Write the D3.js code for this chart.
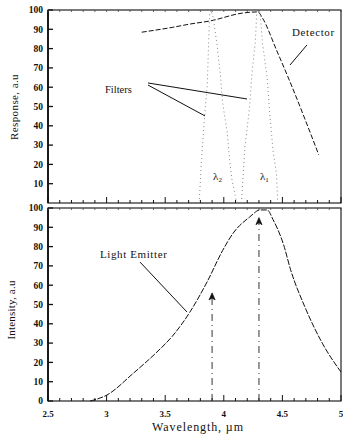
<!DOCTYPE html>
<html>
<head>
<meta charset="utf-8">
<script src="https://cdn.jsdelivr.net/npm/d3@7"></script>
<style>
  html, body { margin: 0; padding: 0; background: #fff; }
  svg { display: block; }
  text { font-family: "Liberation Serif", "DejaVu Serif", serif; fill: #111; }
</style>
</head>
<body>
<svg id="chart" width="343" height="434"></svg>
<script>
// Wavelength axis (µm)
const xTicks = [2.5, 3, 3.5, 4, 4.5, 5];
const xTickLabels = ["2.5", "3", "3.5", "4", "4.5", "5"];
const yTicksTop = [10, 20, 30, 40, 50, 60, 70, 80, 90, 100];
const yTicksBottom = [0, 10, 20, 30, 40, 50, 60, 70, 80, 90, 100];

// Detector response (a.u.)
const detectorX = [3.30, 3.56, 3.71, 3.88, 4.16, 4.29, 4.33, 4.45, 4.56, 4.81];
const detectorY = [88.5, 91.0, 92.7, 94.3, 98.4, 99.0, 95.8, 79.2, 63.5, 25.0];

// Band-pass filter λ2 (~3.9 µm)
const filter2X = [3.79, 3.81, 3.84, 3.86, 3.87, 3.88, 3.89, 3.91, 3.94, 3.97, 3.99, 4.03, 4.05, 4.07, 4.11];
const filter2Y = [0, 23, 48, 62, 83, 98, 100, 96, 83, 67, 52, 36, 22, 12, 0];

// Band-pass filter λ1 (~4.3 µm)
const filter1X = [4.15, 4.18, 4.20, 4.22, 4.24, 4.27, 4.28, 4.30, 4.31, 4.33, 4.37, 4.39, 4.42, 4.45, 4.46];
const filter1Y = [0, 29, 39, 50, 67, 84, 98, 100, 98, 83, 65, 48, 27, 15, 0];

// Light emitter intensity (a.u.)
const emitterX = [2.86, 3.00, 3.23, 3.43, 3.56, 3.71, 3.86, 3.99, 4.08, 4.22, 4.31, 4.37, 4.42, 4.51, 4.57, 4.69, 4.84, 5.00];
const emitterY = [0, 3, 14.5, 25.4, 33.5, 46, 62, 78, 87, 95.3, 99, 99, 94, 81, 68, 49, 30, 15];

// Measurement wavelengths shown as arrows
const arrowX = [3.9, 4.3];
const arrowTop = [56, 95];
const lambdaLabels = ["2", "1"];

const svg = d3.select("#chart");
const left = 48, right = 341;

const x = d3.scaleLinear().domain([2.5, 5]).range([left, right]);
const yTop = d3.scaleLinear().domain([0, 100]).range([203, 10]);
const yBot = d3.scaleLinear().domain([0, 100]).range([401, 208]);

const minorTicks = d3.range(25, 51).map(v => v / 10);

function panel(y, yTicks) {
  const g = svg.append("g");
  const [y0, y1] = y.range();
  // frame
  g.append("rect")
    .attr("x", left).attr("y", y1)
    .attr("width", right - left).attr("height", y0 - y1)
    .attr("fill", "none").attr("stroke", "#222").attr("stroke-width", 1.2);
  g.append("line")
    .attr("x1", left).attr("x2", left).attr("y1", y1).attr("y2", y0)
    .attr("stroke", "#111").attr("stroke-width", 1.8);
  // y ticks and labels
  g.selectAll(".yt").data(yTicks).join("line")
    .attr("x1", left).attr("x2", left + 5)
    .attr("y1", d => y(d)).attr("y2", d => y(d))
    .attr("stroke", "#111").attr("stroke-width", 1.3);
  g.selectAll(".yl").data(yTicks).join("text")
    .attr("x", left - 5).attr("y", d => y(d))
    .attr("dy", "0.35em").attr("text-anchor", "end")
    .attr("font-size", 9.5).attr("font-weight", "bold")
    .text(d => d);
  // x ticks (bottom, inward) and light marks on top edge
  g.selectAll(".xt").data(minorTicks).join("line")
    .attr("x1", d => x(d)).attr("x2", d => x(d))
    .attr("y1", y0)
    .attr("y2", d => y0 - (Math.abs(d * 2 - Math.round(d * 2)) < 1e-6 ? 6 : 3))
    .attr("stroke", "#111").attr("stroke-width", 1);
  g.selectAll(".xtt").data(minorTicks).join("line")
    .attr("x1", d => x(d)).attr("x2", d => x(d))
    .attr("y1", y1).attr("y2", y1 + 2)
    .attr("stroke", "#444").attr("stroke-width", 0.8);
  return g;
}

const gTop = panel(yTop, yTicksTop);
const gBot = panel(yBot, yTicksBottom);

const zip = (xs, ys) => xs.map((v, i) => [v, ys[i]]);

// Top panel: detector response
const lineTop = d3.line().x(d => x(d[0])).y(d => yTop(d[1]));
gTop.append("path")
  .attr("d", lineTop.curve(d3.curveMonotoneX)(zip(detectorX, detectorY)))
  .attr("fill", "none").attr("stroke", "#111").attr("stroke-width", 1)
  .attr("stroke-dasharray", "5,2");

// Top panel: filters (dotted)
[[filter2X, filter2Y], [filter1X, filter1Y]].forEach(([fx, fy]) => {
  gTop.append("path")
    .attr("d", d3.line().x(d => x(d[0])).y(d => yTop(d[1]))(zip(fx, fy)))
    .attr("fill", "none").attr("stroke", "#888").attr("stroke-width", 1)
    .attr("stroke-dasharray", "1,3");
});

// Lambda labels
arrowX.forEach((w, i) => {
  const t = gTop.append("text")
    .attr("x", x(w) + 1).attr("y", yTop(12))
    .attr("font-size", 11);
  t.append("tspan").text("λ");
  t.append("tspan").attr("font-size", 7).attr("dy", 2.5).text(lambdaLabels[i]);
});

// Annotations, top panel
gTop.append("text").attr("x", x(2.986)).attr("y", yTop(57))
  .attr("font-family", "Liberation Sans, Arial, sans-serif")
  .attr("font-size", 10.5).text("Filters");
[[3.353, 62.2, 4.198, 53.9], [3.353, 61.1, 3.84, 45.1]].forEach(([a, b, c, d]) => {
  gTop.append("line")
    .attr("x1", x(a)).attr("y1", yTop(b)).attr("x2", x(c)).attr("y2", yTop(d))
    .attr("stroke", "#111").attr("stroke-width", 1);
});
gTop.append("text").attr("x", x(4.582)).attr("y", yTop(86.5))
  .attr("font-size", 11).attr("letter-spacing", 0.6).text("Detector");
gTop.append("line")
  .attr("x1", x(4.71)).attr("y1", yTop(81.9)).attr("x2", x(4.565)).attr("y2", yTop(71.5))
  .attr("stroke", "#111").attr("stroke-width", 1);

// Bottom panel: light emitter
gBot.append("path")
  .attr("d", d3.line().x(d => x(d[0])).y(d => yBot(d[1])).curve(d3.curveMonotoneX)(zip(emitterX, emitterY)))
  .attr("fill", "none").attr("stroke", "#111").attr("stroke-width", 1)
  .attr("stroke-dasharray", "6,1.5");

// Bottom panel: wavelength arrows
arrowX.forEach((w, i) => {
  const xp = x(w), yt = yBot(arrowTop[i]);
  gBot.append("line")
    .attr("x1", xp).attr("x2", xp).attr("y1", yBot(0)).attr("y2", yt + 5)
    .attr("stroke", "#333").attr("stroke-width", 1)
    .attr("stroke-dasharray", "7,4,1,4");
  gBot.append("path")
    .attr("d", `M${xp},${yt} L${xp - 3},${yt + 7} L${xp},${yt + 5} L${xp + 3},${yt + 7} Z`)
    .attr("fill", "#111").attr("stroke", "#111").attr("stroke-width", 0.8);
});

gBot.append("text").attr("x", x(2.944)).attr("y", yBot(74.1))
  .attr("font-size", 11).attr("letter-spacing", 0.6).text("Light Emitter");
gBot.append("line")
  .attr("x1", x(3.285)).attr("y1", yBot(72)).attr("x2", x(3.686)).attr("y2", yBot(46.1))
  .attr("stroke", "#111").attr("stroke-width", 1);

// x tick labels
svg.selectAll(".xl").data(xTicks).join("text")
  .attr("x", d => x(d)).attr("y", 417)
  .attr("text-anchor", "middle").attr("font-size", 9).attr("font-weight", "bold")
  .text((d, i) => xTickLabels[i]);

// axis titles
svg.append("text").attr("x", 198).attr("y", 431)
  .attr("text-anchor", "middle").attr("font-size", 12).attr("letter-spacing", 0.9)
  .text("Wavelength, µm");
svg.append("text")
  .attr("transform", "translate(18,107) rotate(-90)")
  .attr("text-anchor", "middle").attr("font-size", 11).attr("letter-spacing", 0.4)
  .text("Response, a.u");
svg.append("text")
  .attr("transform", "translate(15,310) rotate(-90)")
  .attr("text-anchor", "middle").attr("font-size", 11).attr("letter-spacing", 0.2)
  .text("Intensity, a.u");
</script>
</body>
</html>
